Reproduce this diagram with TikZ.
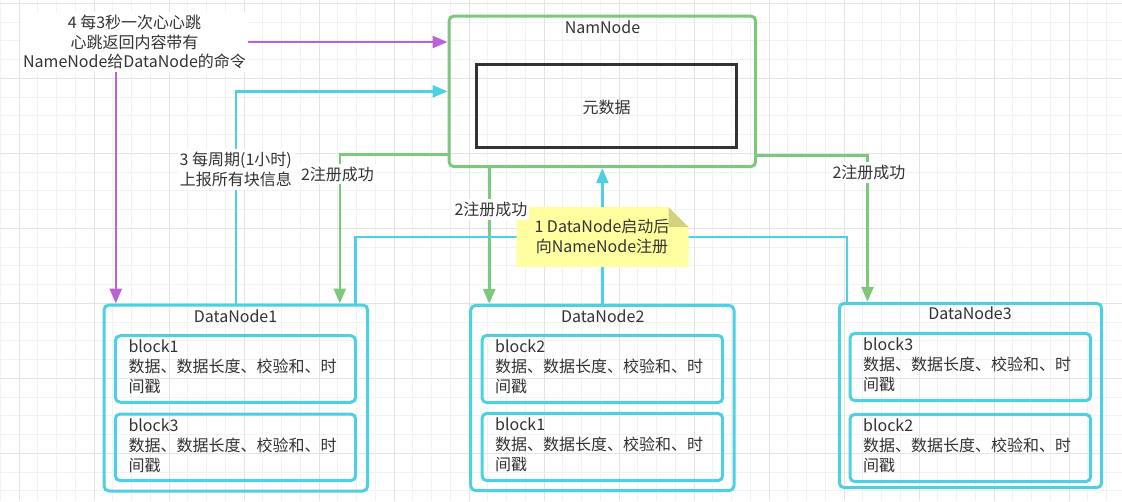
\documentclass[tikz,border=0pt]{standalone}
\usepackage{fontspec}
\setmainfont{Noto Sans CJK SC}
\usetikzlibrary{arrows.meta,calc}
\definecolor{gminor}{RGB}{242,242,242}
\definecolor{gmajor}{RGB}{228,228,228}
\definecolor{cgreen}{RGB}{126,200,126}
\definecolor{ccyan}{RGB}{77,208,225}
\definecolor{cpurple}{RGB}{185,100,210}
\definecolor{ctext}{RGB}{51,51,51}
\definecolor{cnote}{RGB}{255,255,160}
\definecolor{cfold}{RGB}{210,210,130}
\tikzset{
  txt/.style={font=\fontsize{16}{19.5}\selectfont, text=ctext, inner sep=0pt},
  lbl/.style={txt, fill=white, inner xsep=2pt, inner ysep=3pt, align=center},
  outerbox/.style={draw=ccyan, line width=3pt, rounded corners=5pt},
  innerbox/.style={draw=ccyan, line width=3pt, rounded corners=5pt},
  nnbox/.style={draw=cgreen, line width=3pt, rounded corners=5pt},
  metabox/.style={draw=ctext, line width=3pt},
  blocktxt/.style={txt, font=\fontsize{16}{20}\selectfont, align=left, anchor=base west},
  conn/.style={line width=2.6pt, -{Triangle[length=15pt,width=12pt]}},
  plainconn/.style={line width=2.6pt},
}
\begin{document}
\begin{tikzpicture}[x=1pt,y=-1pt]
\useasboundingbox (0,0) rectangle (1122,501);
\fill[white] (0,0) rectangle (1122,501);
% grid
\foreach \i in {0,...,60} {\draw[gminor, line width=1pt] ({0.25+18.75*\i},0) -- ({0.25+18.75*\i},501);}
\foreach \i in {0,...,27} {\draw[gminor, line width=1pt] (0,{3.3+18.75*\i}) -- (1122,{3.3+18.75*\i});}
\foreach \i in {0,...,14} {\draw[gmajor, line width=1pt] ({19+75*\i},0) -- ({19+75*\i},501);}
\foreach \i in {0,...,6} {\draw[gmajor, line width=1pt] (0,{3.3+75*\i}) -- (1122,{3.3+75*\i});}

% NameNode
\node[nnbox, minimum width=306.7pt, minimum height=150.7pt] (nn) at (602.35,91.35) {};
\node[txt] (nnlbl) at (602.5,27.3) {NamNode};
\node[metabox, minimum width=260pt, minimum height=83.7pt] (meta) at (606.7,105.85) {};
\node[txt] (metalbl) at (606.7,107.7) {元数据};

% DataNodes
\node[outerbox, minimum width=263.7pt, minimum height=186pt] (d1) at (235.85,398) {};
\node[txt] (d1lbl) at (235.5,316) {DataNode1};
\node[innerbox, minimum width=240.4pt, minimum height=66.6pt] (b11) at (235.5,369) {};
\node[innerbox, minimum width=240.4pt, minimum height=66.7pt] (b13) at (235.5,447.35) {};
\node[blocktxt] (t11) at (128.3,392.5) {block1\\数据、数据长度、校验和、时\\间戳};
\node[blocktxt] (t13) at (128.3,471) {block3\\数据、数据长度、校验和、时\\间戳};

\node[outerbox, minimum width=263.3pt, minimum height=185.4pt] (d2) at (602.35,398) {};
\node[txt] (d2lbl) at (602.7,316) {DataNode2};
\node[innerbox, minimum width=240.7pt, minimum height=67.4pt] (b22) at (602.35,369) {};
\node[innerbox, minimum width=240.7pt, minimum height=67.4pt] (b21) at (602.35,447) {};
\node[blocktxt] (t22) at (495,392.5) {block2\\数据、数据长度、校验和、时\\间戳};
\node[blocktxt] (t21) at (495,470.5) {block1\\数据、数据长度、校验和、时\\间戳};

\node[outerbox, minimum width=262.4pt, minimum height=184.4pt] (d3) at (970.5,395.5) {};
\node[txt] (d3lbl) at (970,313.3) {DataNode3};
\node[innerbox, minimum width=240.7pt, minimum height=67.4pt] (b33) at (970.35,367) {};
\node[innerbox, minimum width=240.7pt, minimum height=67.4pt] (b32) at (970.35,448) {};
\node[blocktxt] (t33) at (863,390.5) {block3\\数据、数据长度、校验和、时\\间戳};
\node[blocktxt] (t32) at (863,471.5) {block2\\数据、数据长度、校验和、时\\间戳};

% coordinates
\coordinate (pdn) at ($(d1.north west)+(13.3,0)$);
\coordinate (g1s) at ($(nn.south west)+(0,-14)$);
\coordinate (g1e) at ($(d1.north east)+(-29.4,0)$);
\coordinate (g2s) at ($(nn.south west)+(41.7,0)$);
\coordinate (g3s) at ($(nn.south east)+(0,-12.7)$);
\coordinate (g3e) at ($(d3.north west)+(29.7,0)$);
\coordinate (c1s) at ($(d1.north east)+(-13.7,0)$);
\coordinate (c3s) at ($(d3.north west)+(9,0)$);
\coordinate (jn) at (602.35,237);

% heartbeat label + purple arrows
\node[lbl] (hb) at (134.5,42) {4 每3秒一次心心跳\\心跳返回内容带有\\NameNode给DataNode的命令};
\draw[conn, cpurple] (hb.east) -- (hb.east -| nn.west);
\draw[conn, cpurple] (hb.south -| pdn) -- (pdn);

% cyan block report
\draw[conn, ccyan] (d1.north) |- (nn.west);
\node[lbl] (rep) at (235.8,169.4) {3 每周期(1小时)\\上报所有块信息};

% green registration success
\draw[conn, cgreen] (g1s) -| (g1e);
\node[lbl] (ok1) at (337.5,174) {2注册成功};
\draw[conn, cgreen] (g2s) -- (g2s |- d2.north);
\draw[conn, cgreen] (g3s) -| (g3e);
\node[lbl] (ok3) at (869,172.7) {2注册成功};

% cyan registration
\draw[plainconn, ccyan] (c1s) |- (jn);
\draw[plainconn, ccyan] (c3s) |- (jn);
\draw[conn, ccyan] (d2.north) -- (nn.south);

% note
\node[minimum width=171.6pt, minimum height=59.4pt, inner sep=0pt] (note) at (602.5,237) {};
\fill[cnote] (note.north west) -- ($(note.north east)+(-20,0)$) -- ($(note.north east)+(0,20)$) -- (note.south east) -- (note.south west) -- cycle;
\fill[cfold] ($(note.north east)+(-20,0)$) -- ($(note.north east)+(-20,20)$) -- ($(note.north east)+(0,20)$) -- cycle;
\node[txt, align=center, font=\fontsize{16}{20}\selectfont] (notetxt) at (602,236.7) {1 DataNode启动后\\向NameNode注册};
\node[lbl] (ok2) at (491,209.3) {2注册成功};
\end{tikzpicture}
\end{document}
